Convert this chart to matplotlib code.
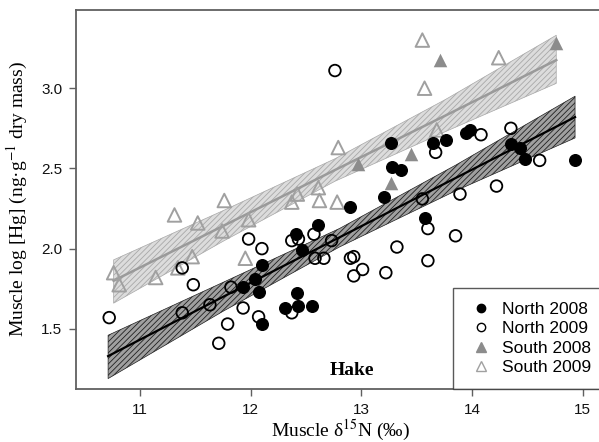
import numpy as np
import matplotlib
matplotlib.use("Agg")
import matplotlib.pyplot as plt
from matplotlib.lines import Line2D

plt.rcParams['font.family'] = ['Liberation Sans', 'DejaVu Sans']
plt.rcParams['mathtext.fontset'] = 'stix'
plt.rcParams['hatch.linewidth'] = 0.6

# North 2008 (filled black circles)
n08_x = [13.27, 13.65, 13.76, 13.94, 13.98, 13.28, 13.36, 14.35, 14.43, 14.48, 14.93,
         13.20, 12.90, 13.57, 12.61, 12.41, 12.46, 12.10, 12.04, 11.93, 12.07, 12.42,
         12.31, 12.43, 12.55, 12.10]
n08_y = [2.66, 2.66, 2.675, 2.72, 2.74, 2.51, 2.49, 2.65, 2.63, 2.56, 2.55,
         2.32, 2.26, 2.19, 2.15, 2.09, 1.99, 1.90, 1.81, 1.76, 1.73, 1.725,
         1.63, 1.645, 1.645, 1.53]

# North 2009 (open circles)
n09_x = [10.72, 11.38, 11.48, 11.38, 11.63, 11.71, 11.79, 11.82, 11.93, 11.98, 12.10,
         12.07, 12.37, 12.43, 12.57, 12.58, 12.66, 12.37, 12.73, 13.89, 13.55, 13.60,
         13.85, 13.32, 13.60, 12.90, 12.93, 12.93, 13.01, 13.22, 12.76, 14.08, 14.35,
         14.61, 14.22, 13.67]
n09_y = [1.57, 1.88, 1.775, 1.60, 1.65, 1.41, 1.53, 1.76, 1.63, 2.06, 2.00,
         1.575, 2.05, 2.06, 2.09, 1.94, 1.94, 1.60, 2.05, 2.34, 2.31, 2.125,
         2.08, 2.01, 1.925, 1.94, 1.95, 1.83, 1.87, 1.85, 3.11, 2.71, 2.75,
         2.55, 2.39, 2.60]

# South 2008 (filled grey triangles)
s08_x = [13.71, 14.76, 12.97, 13.45, 13.27]
s08_y = [3.175, 3.28, 2.53, 2.59, 2.41]

# South 2009 (open grey triangles)
s09_x = [10.76, 10.81, 11.14, 11.31, 11.52, 11.47, 11.34, 11.76, 11.74, 11.98, 11.95,
         12.37, 12.42, 12.61, 12.62, 12.78, 12.79, 13.55, 13.57, 14.24, 13.68]
s09_y = [1.85, 1.775, 1.82, 2.21, 2.16, 1.95, 1.88, 2.30, 2.11, 2.18, 1.94,
         2.29, 2.34, 2.38, 2.30, 2.29, 2.63, 3.30, 3.00, 3.19, 2.74]

# regression lines with confidence bands
north_fit_x = [10.71, 11.75, 12.80, 13.85, 14.93]
north_fit_y = [1.33, 1.70, 2.07, 2.44, 2.82]
north_lo = [1.19, 1.61, 2.01, 2.36, 2.69]
north_hi = [1.46, 1.79, 2.125, 2.52, 2.95]

south_fit_x = [10.76, 11.76, 12.76, 13.76, 14.76]
south_fit_y = [1.80, 2.145, 2.49, 2.83, 3.175]
south_lo = [1.66, 2.05, 2.42, 2.73, 3.03]
south_hi = [1.93, 2.24, 2.56, 2.93, 3.33]

fig = plt.figure(figsize=(5.99, 4.42), dpi=100)
ax = fig.add_axes([0.1269, 0.1199, 0.883, 0.8575])

spine_col = '#606060'

ax.fill_between(south_fit_x, south_lo, south_hi, facecolor='#dcdcdc', edgecolor='#a8a8a8',
                hatch='//////', linewidth=0.5, zorder=1)
ax.plot(south_fit_x, south_fit_y, color='#9a9a9a', lw=1.8, zorder=2)

ax.fill_between(north_fit_x, north_lo, north_hi, facecolor='#a0a0a0', edgecolor='#202020',
                hatch='//////', linewidth=0.5, zorder=1)
ax.plot(north_fit_x, north_fit_y, color='black', lw=1.6, zorder=2)

ax.scatter(s09_x, s09_y, marker='^', s=95, facecolors='none', edgecolors='#a0a0a0',
           linewidths=1.4, zorder=3)
ax.scatter(s08_x, s08_y, marker='^', s=95, color='#8c8c8c', linewidths=0, zorder=3)
ax.scatter(n09_x, n09_y, marker='o', s=70, facecolors='none', edgecolors='black',
           linewidths=1.3, zorder=4)
ax.scatter(n08_x, n08_y, marker='o', s=70, color='black', zorder=4)

ax.set_xlim(10.42, 15.2)
ax.set_ylim(1.125, 3.4875)
ax.set_xticks([11, 12, 13, 14, 15])
ax.set_yticks([1.5, 2.0, 2.5, 3.0])
ax.set_yticklabels(['1.5', '2.0', '2.5', '3.0'])

for sp in ax.spines.values():
    sp.set_color(spine_col)
    sp.set_linewidth(1.3)
ax.tick_params(direction='out', length=5, width=1.0, color=spine_col,
               labelsize=11, labelcolor='#111111', pad=5)

ax.set_xlabel('Muscle δ$^{15}$N (‰)', family='Liberation Serif', fontsize=14, labelpad=0.5)
ax.set_ylabel('Muscle log [Hg] (ng·g$^{-1}$ dry mass)', family='Liberation Serif',
              fontsize=14, labelpad=8)

ax.text(12.91, 1.19, 'Hake', family='Liberation Serif', fontweight='bold', fontsize=14,
        ha='center', va='bottom')

handles = [
    Line2D([], [], marker='o', ls='none', color='black', markersize=6),
    Line2D([], [], marker='o', ls='none', markerfacecolor='none', markeredgecolor='black',
           markeredgewidth=1.0, markersize=6),
    Line2D([], [], marker='^', ls='none', color='#8c8c8c', markersize=7),
    Line2D([], [], marker='^', ls='none', markerfacecolor='none', markeredgecolor='#a0a0a0',
           markeredgewidth=1.0, markersize=7),
]
labels = ['North 2008', 'North 2009', 'South 2008', 'South 2009']
leg = ax.legend(handles, labels, loc='lower right', borderaxespad=0, fontsize=12.5,
                frameon=True, fancybox=False, handlelength=1.6, handletextpad=0.4,
                labelspacing=0.25, borderpad=0.8)
leg.get_frame().set_edgecolor('#303030')
leg.get_frame().set_linewidth(1.0)
leg.set_zorder(5)

fig.savefig('out.png', dpi=100)
